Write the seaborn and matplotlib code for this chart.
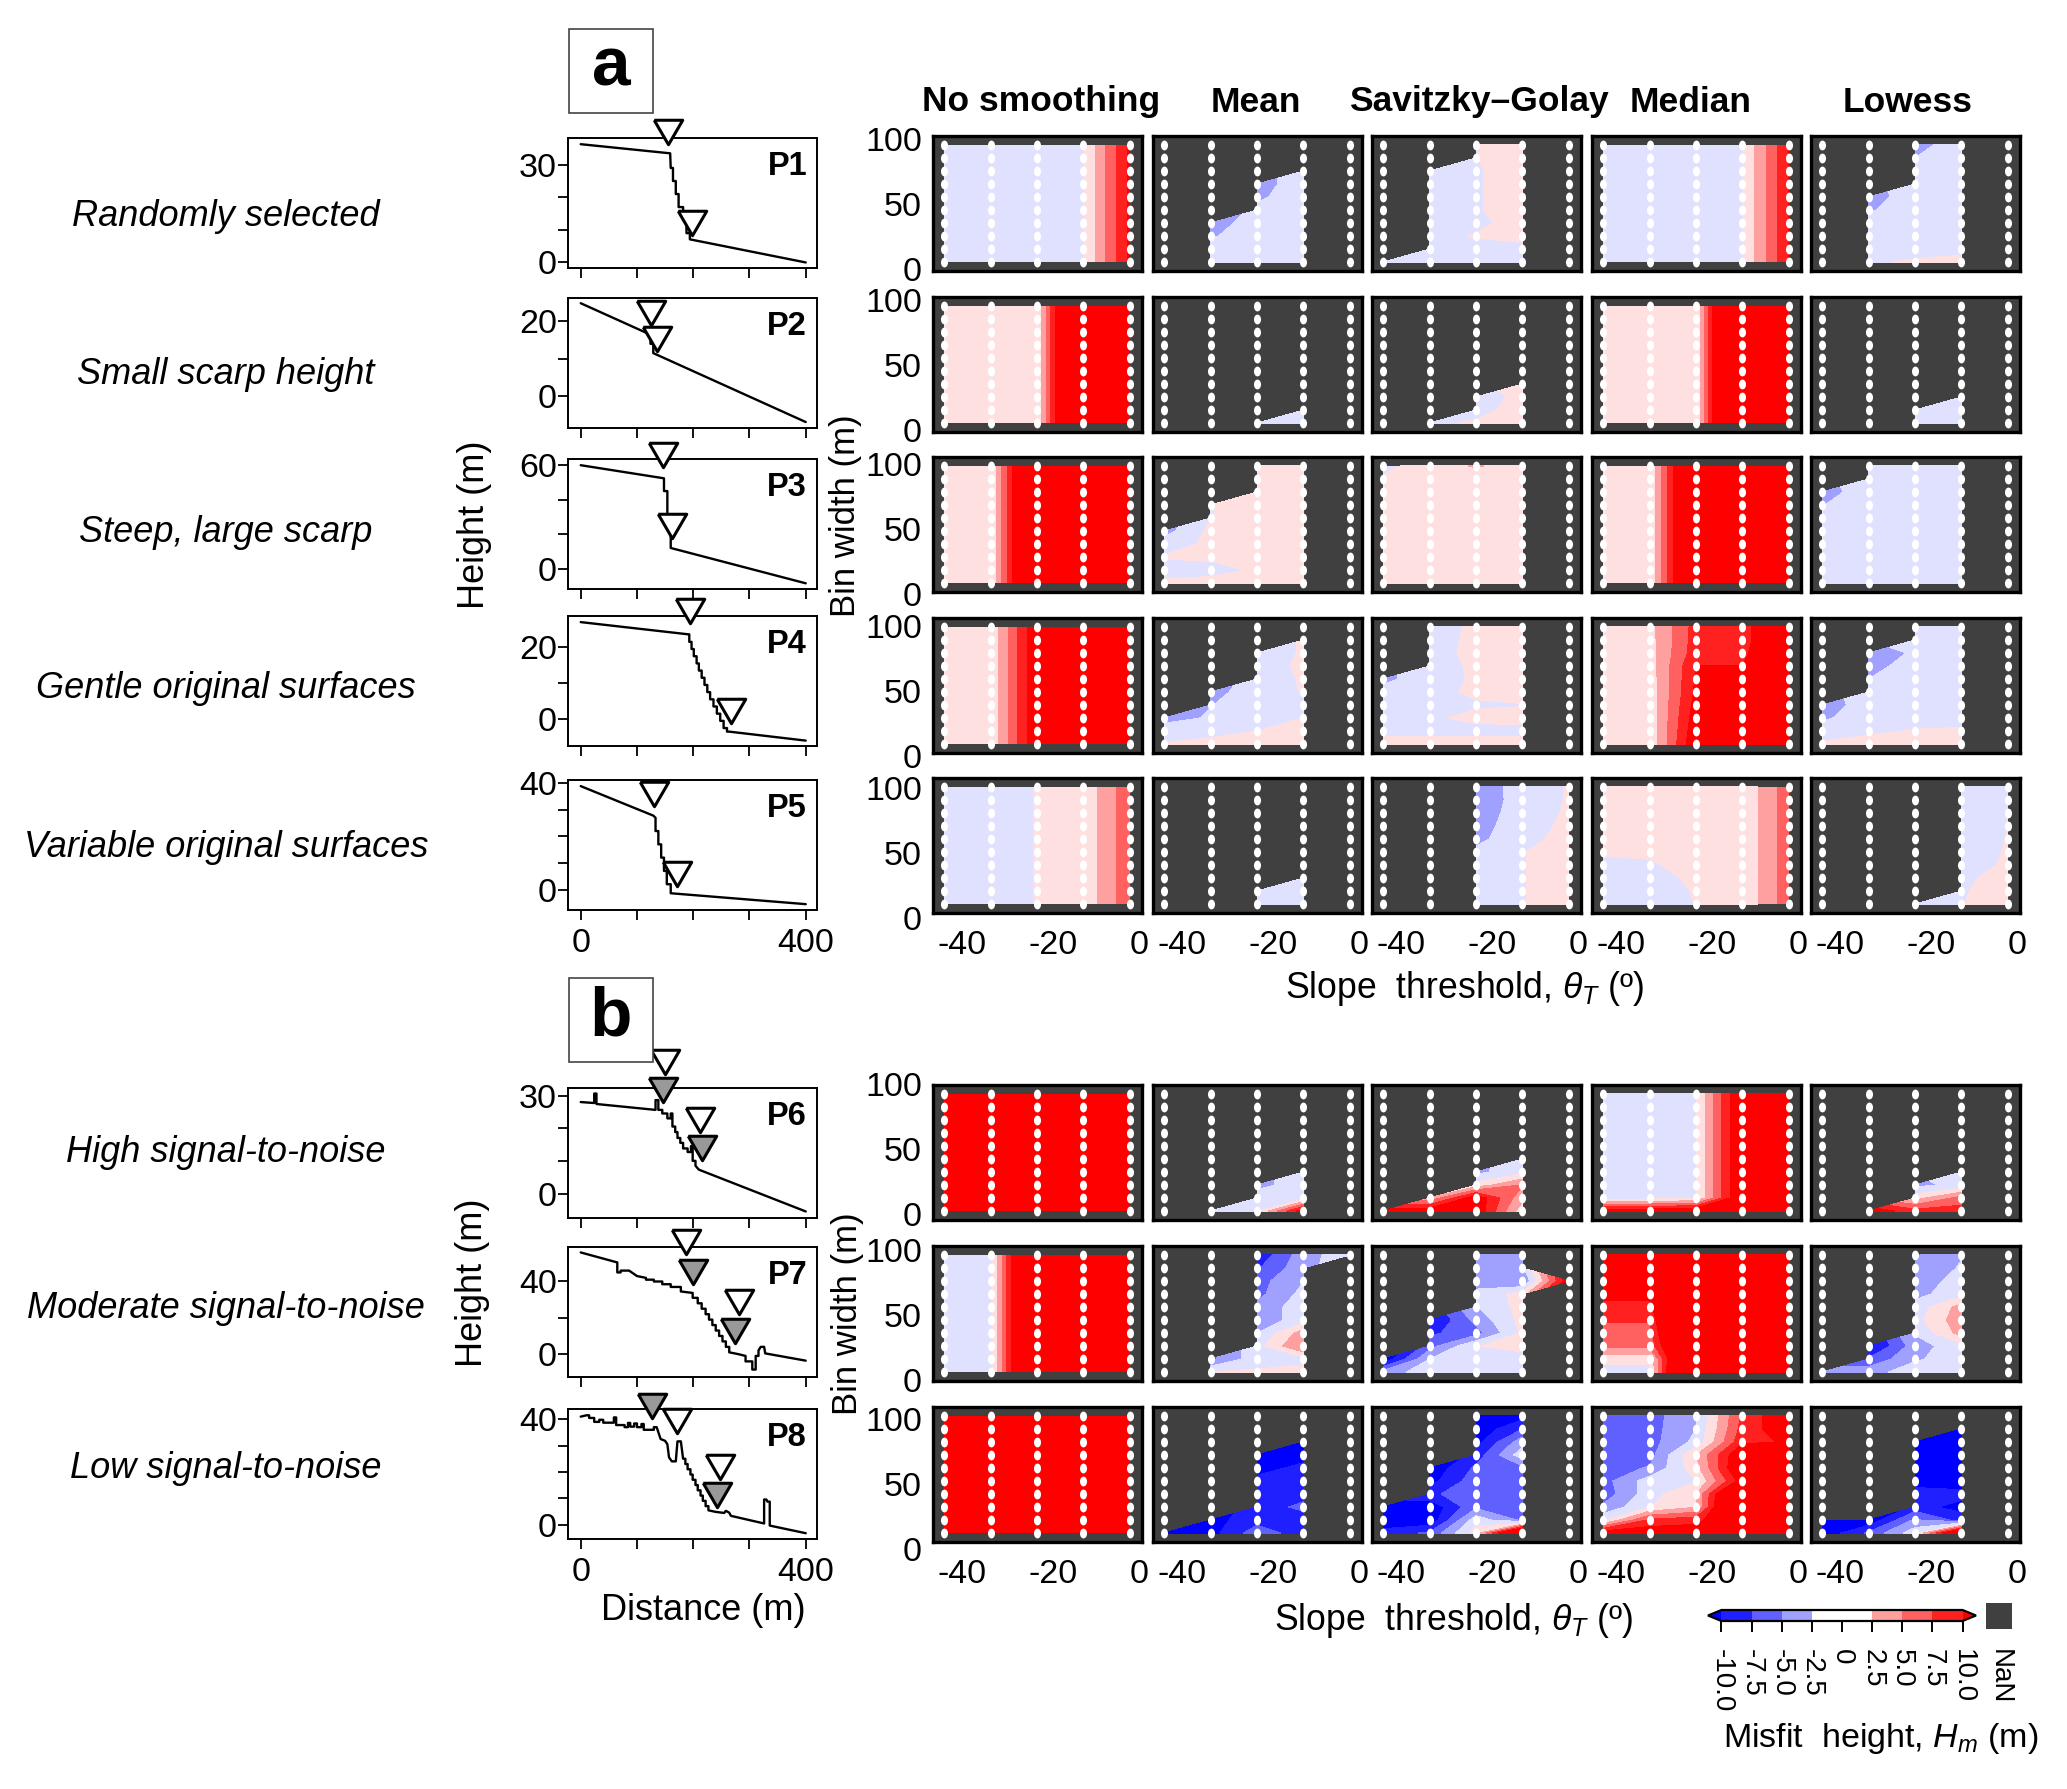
import numpy as np
import pandas as pd
import matplotlib
matplotlib.use("Agg")
import matplotlib.pyplot as plt
from matplotlib.colors import BoundaryNorm, ListedColormap
from matplotlib.cm import ScalarMappable
from matplotlib.markers import MarkerStyle
from matplotlib.patches import Rectangle
from matplotlib.path import Path
from matplotlib.transforms import Affine2D, ScaledTranslation
import seaborn as sns

N = np.nan
W, H = 2067, 1789

# grid axes
slopes = [-40, -30, -20, -10, 0]
bin_widths = [10, 20, 30, 40, 50, 60, 70, 80, 90, 100]
levels = [-10, -7.5, -5, -2.5, 0, 2.5, 5, 7.5, 10]
level_labels = ["-10.0", "-7.5", "-5.0", "-2.5", "0", "2.5", "5.0", "7.5", "10.0"]
fill_colors = ["#0000ff", "#2020ff", "#6060ff", "#a0a0ff", "#e0e0ff",
               "#ffe0e0", "#ffa0a0", "#ff6060", "#ff2020", "#ff0000"]
bar_colors = ["#2020ff", "#6060ff", "#a0a0ff", "#ffffff",
              "#ffffff", "#ffa0a0", "#ff6060", "#ff2020"]

methods = ["No smoothing", "Mean", "Savitzky–Golay", "Median", "Lowess"]
profile_names = ["P1", "P2", "P3", "P4", "P5", "P6", "P7", "P8"]
profile_titles = ["Randomly selected", "Small scarp height", "Steep, large scarp",
                  "Gentle original surfaces", "Variable original surfaces",
                  "High signal-to-noise", "Moderate signal-to-noise", "Low signal-to-noise"]

# misfit height, rows go from bin width 10 up to 100
p1_none = [[-1, -1, -1, -0.1, 10.8]] * 10
p1_mean = [[N, -1, -1, -1, N], [N, -1, -1, -1, N], [N, -2.8, -1, -1, N], [N, -4, -1, -1, N],
           [N, N, -1.8, -1, N], [N, N, -3, -1, N], [N, N, -3.7, -1, N], [N, N, N, -1, N],
           [N, N, N, N, N], [N, N, N, N, N]]
p1_sg = [[-1, -1, -1, -1, N], [N, -1, -1, -1, N], [N, -1, 0.2, 1, N], [N, -1, -0.6, 1, N],
         [N, -1, -0.2, 1, N], [N, -1, -0.2, 1, N], [N, -1, -0.2, 1, N], [N, -1, -0.2, 1, N],
         [N, N, -0.05, 1, N], [N, N, -0.05, 1, N]]
p1_median = [[-1, -1, -1, -0.05, 10.1]] * 10
p1_lowess = [[N, -0.3, 0.3, 1.2, N], [N, -1, -1, -1, N], [N, -1, -1, -1, N], [N, -1, -1, -1, N],
             [N, -2.8, -1, -1, N], [N, -3.6, -1.2, -1, N], [N, N, -1, -1, N], [N, N, -1, -1, N],
             [N, N, -2.5, -1, N], [N, N, -3.5, -1, N]]

p2_none = [[1, 1, 0.2, 26, 30]] * 10
p2_mean = [[N, N, -1, -1, N], [N, N, N, -1, N], [N] * 5, [N] * 5, [N] * 5,
           [N] * 5, [N] * 5, [N] * 5, [N] * 5, [N] * 5]
p2_sg = [[N, -0.5, 0.3, 1, N], [N, N, -0.8, 1, N], [N, N, -1, 0.55, N], [N, N, N, 1, N], [N] * 5,
         [N] * 5, [N] * 5, [N] * 5, [N] * 5, [N] * 5]
p2_median = [[1, 1, 0.3, 28, 30]] * 10
p2_lowess = [[N, N, -1, -1, N], [N, N, -1, -1, N], [N, N, N, -1, N], [N] * 5, [N] * 5,
             [N] * 5, [N] * 5, [N] * 5, [N] * 5, [N] * 5]

p3_none = [[1, 0.2, 21, 30, 30]] * 10
p3_mean = [[0.5, 1, 1, 1, N], [-1, -1, 0.35, 1, N], [0.2, 0.5, 1, 1, N], [-1, 0.43, 1, 1, N],
           [-3.5, 0.6, 1, 1, N], [N, -0.1, 1, 1, N], [N, -0.1, 1, 1, N], [N, N, 1, 1, N],
           [N, N, 1, 1, N], [N, N, 1, 1, N]]
p3_sg = [[1, 1, 1, 1, N], [1, 1, 1, 1, N], [1, 1, 1, 1, N], [1, 1, 1, 1, N], [1, 1, 1, 1, N],
         [1, 1, 1, 1, N], [1, 1, 1, 1, N], [1, 1, 1, 1, N], [0.3, 1, 1, 1, N], [-0.6, 1, 2.8, 1, N]]
p3_median = [[1, 0.2, 20, 30, 30]] * 10
p3_lowess = [[-1, -1, -1, -1, N], [-1, -1, -1, -1, N], [-1, -1, -1, -1, N], [-1, -1, -1, -1, N],
             [-1, -1, -1, -1, N], [-1, -1, -1, -1, N], [-2.6, -1, -1, -1, N], [-3.5, -1.3, -1, -1, N],
             [N, -1, -1, -1, N], [N, -1, -1, -1, N]]

p4_none = [[1, 0.65, 12.5, 30, 30]] * 10
p4_mean = [[0.1, 1, 1, 1, N], [-1, -1, 0, 1, N], [-3.5, -2.2, -1, 0.02, N], [N, -2.6, -1, -0.5, N],
           [N, -3.5, -1, 0.1, N], [N, N, -1.5, 0.3, N], [N, N, -1, 0.4, N], [N, N, -2.7, 0.5, N],
           [N, N, N, 0.5, N], [N] * 5]
p4_sg = [[1.3, 1.3, 1.3, 1.3, N], [-1, -1, -1, -0.84, N], [-1, -0.5, 0.8, 0.8, N], [-1, -1, -0.4, -0.1, N],
         [-1.5, -1, 0.6, 0.8, N], [-3.2, -1, 0.3, 1, N], [N, -1, 0.37, 1, N], [N, -1, 0.7, 1, N],
         [N, -1, 0.55, 1, N], [N, -1, 0.45, 1, N]]
p4_median = [[1, 0.4, 12.6, 14, 20], [1, 0.5, 12, 14, 20], [1, 0.7, 11.5, 14, 20], [1, 0.8, 11, 14, 20],
             [1, 0.9, 10.5, 14, 20], [1, 1, 10.3, 14, 20], [1, 1.2, 10, 10, 12], [1, 1.4, 8.9, 9.7, 12],
             [1, 1.5, 8.7, 9.5, 12], [1, 1.6, 8.55, 9.5, 12]]
p4_lowess = [[0.3, 0.9, 0.9, 0.9, N], [-1, -0.4, 0.15, 0.4, N], [-2.95, -1, -1, -1, N], [-3.7, -1.4, -1, -1, N],
             [N, -1.2, -1, -1, N], [N, -2.5, -1, -1, N], [N, -3.4, -1.4, -1, N], [N, -3.7, -2.2, -1, N],
             [N, N, -1, -1, N], [N, N, -1, -1, N]]

p5_none = [[-1, -1, 0.1, 0.6, 6.9]] * 10
p5_mean = [[N, N, -1, -1, N], [N, N, -1, -1, N], [N, N, N, -1, N], [N] * 5, [N] * 5,
           [N] * 5, [N] * 5, [N] * 5, [N] * 5, [N] * 5]
p5_sg = [[N, N, -1, -0.1, 1], [N, N, -1, -0.1, 1], [N, N, -1, -0.1, 1], [N, N, -1, -0.1, 1],
         [N, N, -2, -0.1, 1], [N, N, -3.1, -1, 1.08], [N, N, -3.6, -1, 0.5], [N, N, -4.2, -1, 0.25],
         [N, N, -4.8, -1, 0.12], [N, N, -5.3, -0.5, 0.06]]
p5_median = [[-1, -1, 0.05, 0.5, 6.5], [-1, -1, 0.15, 0.5, 6.5], [-1, -1, 0.54, 0.5, 6.5], [-1, -0.4, 1.1, 0.5, 6.5],
             [0.5, 0.5, 1, 0.5, 6.5], [1, 1, 1, 0.5, 6.5], [1, 1, 1, 0.5, 6.5], [1, 1, 1, 0.5, 6.5],
             [1, 1, 1, 0.5, 6.5], [1, 1, 1, 0.5, 6.5]]
p5_lowess = [[N, N, -1, -0.07, 1], [N, N, N, -0.3, 1.46], [N, N, N, -0.6, 1.1], [N, N, N, -1, 0.33],
             [N, N, N, -1, 0.16], [N, N, N, -1, 0.07], [N, N, N, -1, 0.03], [N, N, N, -1, 0.01],
             [N, N, N, -1, -0.1], [N, N, N, -1, -0.1]]

p6_none = [[30, 30, 30, 30, 30]] * 10
p6_mean = [[N, -1, -0.5, 12, N], [N, N, -1, -1, N], [N, N, -3.4, -1, N], [N, N, N, -1, N], [N] * 5,
           [N] * 5, [N] * 5, [N] * 5, [N] * 5, [N] * 5]
p6_sg = [[12, 12, 12.3, 0.8, N], [N, 3, 12, 3.2, N], [N, N, 1, 5.2, N], [N, N, -3.2, -0.7, N], [N, N, N, -1, N],
         [N] * 5, [N] * 5, [N] * 5, [N] * 5, [N] * 5]
p6_median = [[12, 12, 13, 30, 30], [-1, -1, -0.2, 13.7, 30], [-1, -1, -0.2, 13.7, 30], [-1, -1, -0.2, 13.7, 30],
             [-1, -1, -0.2, 13.7, 30], [-1, -1, -0.2, 13.7, 30], [-1, -1, -0.2, 13.7, 30], [-1, -1, -0.2, 13.7, 30],
             [-1, -1, -0.2, 13.7, 30], [-1, -1, -0.2, 13.7, 30]]
p6_lowess = [[N, 12, 8.5, 8.7, N], [N, N, 1.5, 6, N], [N, N, -3.2, -1.7, N], [N, N, N, -1, N], [N] * 5,
             [N] * 5, [N] * 5, [N] * 5, [N] * 5, [N] * 5]

p7_none = [[-1, -1, 24, 30, 30]] * 10
p7_mean = [[N, 0.1, 0.3, 1, N], [N, -5.6, -1, -0.8, N], [N, N, -1, 5.3, N], [N, N, -2.6, 3.8, N],
           [N, N, -4, -1.3, N], [N, N, -4.4, -1, N], [N, N, -5.8, -1.7, N], [N, N, -6, -2.6, N],
           [N, N, -7.8, -3.3, N], [N, N, -9.5, -3.5, -1]]
p7_sg = [[-4, -1, -1, -1, N], [-12, -2.5, -1, -1, N], [N, -6, -0.1, 0.9, N], [N, -8, -6, 0.5, N],
         [N, -10.5, -4.2, 0.8, N], [N, N, -2.7, 1, N], [N, N, -1.9, 1, N], [N, N, -3.5, -5.2, 12],
         [N, N, -3.5, -3, N], [N, N, -3.2, -2.6, N]]
p7_median = [[-1, -1, 30, 30, 30], [0.8, 0.8, 24, 30, 30], [5.5, 5.5, 23, 30, 30], [6.5, 6.5, 25, 30, 30],
             [7.7, 7.7, 25, 30, 30], [9, 9, 25, 30, 30], [11, 11, 30, 30, 30], [12, 12, 30, 30, 30],
             [12, 12, 30, 30, 30], [12, 12, 30, 30, 30]]
p7_lowess = [[-3.7, -3.6, -1, -1, N], [N, -7, -2.9, -1, N], [N, -11, -3.6, -1, N], [N, N, -2.3, 3.5, N],
             [N, N, -1, 4.2, N], [N, N, -1.5, 3.5, N], [N, N, -3.3, -1, N], [N, N, -3.9, -1.5, N],
             [N, N, -4.8, -2.2, N], [N, N, -5.3, -2.7, N]]

p8_none = [[30, 30, 30, 30, 30]] * 10
p8_mean = [[-11, -11, -6, -9, N], [N, -11, -8.5, -9, N], [N, N, -9, -6.8, N], [N, N, -9, -8.5, N],
           [N, N, -9.2, -9, N], [N, N, -11, -9.3, N], [N, N, -12, -11, N], [N, N, N, -12, N],
           [N] * 5, [N] * 5]
p8_sg = [[-9, -7, 1, 20, N], [-12, -12, -1, -5.5, N], [-12, -12, -5.5, -6, N], [N, -8, -6, -6, N],
         [N, -11, -6, -6, N], [N, -12, -7, -5.7, N], [N, N, -9, -1, N], [N, N, -11, -3.5, N],
         [N, N, -12, -7.5, N], [N, N, -12, -11, N]]
p8_median = [[12, 12, 12, 12, 12], [-0.5, 8, 9, 15, 30], [-4.5, -0.1, 2.4, 22, 30], [-6.5, -1.1, 2.5, 20, 30],
             [-6, -1.2, -0.2, 11.5, 30], [-6, -4.8, 1.5, 14, 30], [-6, -6, 2.5, 13, 30], [-6, -6, -1.8, 9.5, 10.2],
             [-6, -6, -2.5, 8.5, 12], [-6, -6.1, -2.7, 8, 12.6]]
p8_lowess = [[-12, -7, -1, 18, N], [-12, -12, -4.5, -8.5, N], [N, N, -9, -11, N], [N, N, -9, -9, N],
             [N, N, -11, -12, N], [N, N, -12, -12, N], [N, N, -12, -12, N], [N, N, -12, -12, N],
             [N, N, N, -12, N], [N] * 5]

grids = [
    [p1_none, p1_mean, p1_sg, p1_median, p1_lowess],
    [p2_none, p2_mean, p2_sg, p2_median, p2_lowess],
    [p3_none, p3_mean, p3_sg, p3_median, p3_lowess],
    [p4_none, p4_mean, p4_sg, p4_median, p4_lowess],
    [p5_none, p5_mean, p5_sg, p5_median, p5_lowess],
    [p6_none, p6_mean, p6_sg, p6_median, p6_lowess],
    [p7_none, p7_mean, p7_sg, p7_median, p7_lowess],
    [p8_none, p8_mean, p8_sg, p8_median, p8_lowess],
]

# topographic profiles
p1_dist = [0, 159, 160, 164, 164, 169, 169, 174, 174, 182, 182, 188, 188, 194, 194, 400]
p1_elev = [36.3, 33.5, 29, 29, 25, 25, 21, 21, 17, 17, 13, 13, 9, 9, 7.1, 0]
p2_dist = [0, 113, 124, 124, 129, 129, 400]
p2_elev = [24.9, 17.2, 16.4, 14, 14, 11.5, -7]
p3_dist = [0, 148, 148, 154, 154, 160, 160, 400]
p3_elev = [60, 52.4, 45, 45, 30, 30, 12, -8.5]
p4_dist = [0, 191, 193, 193, 197, 197, 201, 201, 206, 206, 210, 210, 215, 215, 220, 220, 225, 225,
           230, 230, 236, 236, 242, 242, 248, 248, 254, 254, 260, 260, 264, 400]
p4_elev = [27, 23.6, 23.6, 21.5, 21.5, 19.5, 19.5, 17.5, 17.5, 15.5, 15.5, 13.5, 13.5, 11.5, 11.5, 9.5, 9.5, 7.5,
           7.5, 5.5, 5.5, 3.5, 3.5, 1.5, 1.5, -0.5, -0.5, -2.5, -2.5, -3.5, -3.5, -6]
p5_dist = [0, 129, 133, 133, 138, 138, 143, 143, 148, 148, 153, 153, 160, 160, 400]
p5_elev = [38.9, 27.8, 27, 22, 22, 17, 17, 12, 12, 7, 7, 2, 2, -1.4, -5.5]
p6_dist = [0, 24, 24, 28, 28, 133, 133, 138, 138, 145, 145, 154, 154, 160, 160, 163, 163, 168, 168, 172, 172,
           177, 177, 182, 182, 190, 190, 196, 196, 199, 199, 204, 204, 210, 400]
p6_elev = [28, 27.7, 30.6, 30.6, 27.4, 25.6, 28.6, 28.6, 25.6, 25.6, 24.5, 24.5, 23, 23, 24.5, 24.5, 20.5, 20.5, 18.8, 18.8, 17,
           17, 15.5, 15.5, 13.8, 13.8, 12.7, 12.7, 14.5, 14.5, 10, 10, 8.5, 7.3, -5.5]
p7_dist = [0, 65, 65, 71, 71, 86, 100, 100, 116, 116, 130, 130, 145, 145, 160, 160, 178, 178, 199, 199, 208, 208,
           215, 215, 222, 222, 228, 228, 234, 234, 240, 240, 246, 246, 252, 252, 258, 258, 264, 264, 280, 293, 293,
           305, 305, 311, 311, 316, 316, 320, 326, 328, 400]
p7_elev = [56, 50.5, 45, 45, 46, 46, 43, 43, 42, 41, 41, 40, 40, 38.5, 38.5, 37, 37, 34.5, 33.7, 31, 31, 28,
           28, 25, 25, 22, 22, 19, 19, 16, 16, 13, 13, 10, 10, 7, 7, 4, 4, 1, 0, -1, -4,
           -4, -8.5, -8.5, -1, -1, 2, 4, 4, 0.4, -3.6]
p8_dist = [0, 10, 15, 15, 24, 24, 33, 33, 40, 40, 59, 59, 63, 63, 78, 78, 84, 84, 88, 88, 95, 95, 100, 100,
           108, 108, 112, 112, 130, 130, 135, 142, 150, 154, 157, 162, 169, 172, 178, 182, 186, 186, 190, 190,
           195, 195, 199, 199, 204, 204, 208, 208, 213, 213, 217, 217, 222, 222, 227, 227, 240, 255, 258, 264,
           267, 326, 326, 330, 332, 336, 336, 400]
p8_elev = [41, 41.5, 41.5, 40.5, 40.5, 39, 39, 39.8, 39.8, 38.7, 38.7, 40.7, 40.7, 37.8, 37.8, 37, 37, 38.6, 38.6, 37.2, 37.2, 38.4, 38.4, 37,
           37, 38.2, 38.2, 36, 36, 37, 37, 32.5, 31.8, 30.5, 25.5, 24, 24, 31.6, 31.6, 25, 25, 23, 23, 21,
           21, 19, 19, 17, 17, 15, 15, 13, 13, 11, 11, 9, 9, 7, 7, 5.4, 4.8, 4.4, 5.2, 4.5,
           3.3, 0.4, 9.5, 9.5, 8.7, 8.7, -0.4, -3.3]
profile_dist = [p1_dist, p2_dist, p3_dist, p4_dist, p5_dist, p6_dist, p7_dist, p8_dist]
profile_elev = [p1_elev, p2_elev, p3_elev, p4_elev, p5_elev, p6_elev, p7_elev, p8_elev]

# picked scarp limits, (distance, height)
open_picks = [[(156, 40), (197, 12.2)], [(125, 22.4), (135, 15.4)], [(146, 66), (162, 25)],
              [(194, 30), (267, 2.3)], [(130, 35.8), (172, 6)], [(150, 40.4), (212, 22.5)],
              [(187, 61.5), (281, 28.5)], [(171, 39.3), (248, 21.8)]]
grey_picks = [[], [], [], [], [], [(147, 31.7), (216, 13.8)], [(200, 45), (274, 12.6)], [(126, 45), (242, 11.3)]]
profile_ylim = [(-1.7, 38.2), (-8.6, 26.3), (-11.8, 63.6), (-7.5, 28.7),
                (-7.7, 41.2), (-7.5, 32.3), (-12.6, 59), (-5.5, 43.9)]
profile_yticks = [[0, 10, 20, 30], [0, 10, 20], [0, 20, 40, 60], [0, 10, 20],
                  [0, 10, 20, 30, 40], [0, 10, 20, 30], [0, 20, 40], [0, 10, 20, 30, 40]]

# pixel layout
heat_left = [933, 1153, 1372, 1592, 1811]
heat_top = [136, 297, 457, 618, 778, 1085, 1246, 1407]
prof_top = [138, 298, 459, 616, 780, 1088, 1247, 1409]
row_y = [217, 375, 532, 689, 847, 1152, 1309, 1468]
title_x = [1041, 1256, 1479, 1691, 1908]
ylabel_shift = [0, 0, 4, 5, 7, -4, 1, 9]

sns.set_style("ticks")
plt.rcParams["font.family"] = ["Liberation Sans", "DejaVu Sans"]
plt.rcParams["mathtext.fontset"] = "custom"
plt.rcParams["mathtext.rm"] = "Liberation Sans"
plt.rcParams["mathtext.it"] = "Liberation Sans:italic"
plt.rcParams["axes.edgecolor"] = "black"
plt.rcParams["text.color"] = "black"
plt.rcParams["xtick.color"] = "black"
plt.rcParams["ytick.color"] = "black"
plt.rcParams["axes.labelcolor"] = "black"

fig = plt.figure(figsize=(W / 100, H / 100), dpi=100)


def px_axes(left, top, width, height):
    return fig.add_axes([left / W, 1 - (top + height) / H, width / W, height / H])


def px_text(x, y, s, **kw):
    kw.setdefault("ha", "center")
    kw.setdefault("va", "center")
    return fig.text(x / W, 1 - y / H, s, **kw)


grid_points = pd.DataFrame([(s, b) for s in slopes for b in bin_widths], columns=["slope", "bin"])
dot = MarkerStyle(Path.unit_circle().transformed(Affine2D().scale(0.72, 1)))
tri = MarkerStyle([(-1, 0.86), (1, 0.86), (0, -0.86), (-1, 0.86)])

# contour panels
for r, row in enumerate(grids):
    for c, z in enumerate(row):
        ax = px_axes(heat_left[c], heat_top[r], 209, 135)
        ax.set_facecolor("#404040")
        ax.contourf(slopes, bin_widths, np.ma.masked_invalid(np.array(z, dtype=float)),
                    levels=levels, colors=fill_colors, extend="both")
        sns.scatterplot(data=grid_points, x="slope", y="bin", marker=dot, s=50, color="white",
                        linewidth=0, legend=False, ax=ax, zorder=3)
        ax.set_xlim(-42.4, 2.6)
        ax.set_ylim(3.1, 106.9)
        ax.set_xlabel("")
        ax.set_ylabel("")
        for sp in ax.spines.values():
            sp.set_linewidth(2.4)
        ax.tick_params(length=0, labelsize=24.5)
        ax.tick_params(axis="x", pad=12)
        ax.tick_params(axis="y", pad=8)
        if c == 0:
            ax.set_yticks([4.6, 54.6, 104.6], ["0", "50", "100"])
            shift = ScaledTranslation(0, -ylabel_shift[r] / 100, fig.dpi_scale_trans)
            for lab in ax.get_yticklabels():
                lab.set_transform(lab.get_transform() + shift)
        else:
            ax.set_yticks([])
        if r in (4, 7):
            ax.set_xticks([-36.2, -16.6, 1.9], ["-40", "-20", "0"])
        else:
            ax.set_xticks([])

# profile panels
for r in range(8):
    ax = px_axes(568, prof_top[r], 249, 130)
    sns.lineplot(x=profile_dist[r], y=profile_elev[r], sort=False, estimator=None, errorbar=None,
                 color="black", linewidth=1.7, ax=ax)
    if open_picks[r]:
        xs, ys = zip(*open_picks[r])
        sns.scatterplot(x=list(xs), y=list(ys), marker=tri, s=420, color="white", edgecolor="black",
                        linewidth=2.2, clip_on=False, zorder=6, ax=ax)
    if grey_picks[r]:
        xs, ys = zip(*grey_picks[r])
        sns.scatterplot(x=list(xs), y=list(ys), marker=tri, s=420, color="#999999", edgecolor="black",
                        linewidth=2.2, clip_on=False, zorder=7, ax=ax)
    ax.set_xlim(-22.6, 420)
    ax.set_ylim(*profile_ylim[r])
    ax.set_xticks([0, 100, 200, 300, 400])
    bottom = r in (4, 7)
    ax.set_xticklabels(["0", "", "", "", "400"] if bottom else [""] * 5)
    ticks = profile_yticks[r]
    ax.set_yticks(ticks, [str(t) if t in (0, ticks[-1]) else "" for t in ticks])
    ax.tick_params(length=7, width=1.3, labelsize=24.5)
    ax.tick_params(axis="x", pad=6)
    ax.tick_params(axis="y", pad=1)
    for sp in ax.spines.values():
        sp.set_linewidth(1.4)
    ax.text(0.96, 0.78, profile_names[r], transform=ax.transAxes, ha="right", va="center",
            fontsize=23.5, fontweight="bold")
    px_text(226, row_y[r], profile_titles[r], fontsize=26, fontstyle="italic")

for x, s in zip(title_x, methods):
    px_text(x, 102, s, fontsize=25.5, fontweight="bold")

# panel letters
for s, top in (("a", 29), ("b", 978)):
    fig.add_artist(Rectangle((569 / W, 1 - (top + 84) / H), 84 / W, 84 / H, transform=fig.transFigure,
                             facecolor="white", edgecolor="#444444", linewidth=1.2))
    px_text(611, top + 39, s, fontsize=50, fontweight="bold")

px_text(475, 525, "Height (m)", fontsize=26, rotation=90)
px_text(473, 1283, "Height (m)", fontsize=26, rotation=90)
px_text(845, 516, "Bin width (m)", fontsize=25, rotation=90)
px_text(848, 1314, "Bin width (m)", fontsize=25, rotation=90)
px_text(703, 1611, "Distance (m)", fontsize=26)
px_text(1465, 988, r"Slope  threshold, $\mathit{\theta}_{T}$ (º)", fontsize=25.7)
px_text(1454, 1621, r"Slope  threshold, $\mathit{\theta}_{T}$ (º)", fontsize=25.7)

# colour bar and NaN swatch, the extensions sit inside the axes box
cax = px_axes(1708, 1610, 268, 11)
cmap = ListedColormap(bar_colors)
cmap.set_under("#0000ff")
cmap.set_over("#ff0000")
cb = fig.colorbar(ScalarMappable(norm=BoundaryNorm(levels, cmap.N), cmap=cmap), cax=cax,
                  orientation="horizontal", extend="both", extendfrac=0.056, ticks=levels, spacing="proportional")
cb.ax.set_xticklabels(level_labels, rotation=-90, fontsize=20)
cb.ax.tick_params(length=8, width=1.4, pad=12)
cb.outline.set_linewidth(1.6)
fig.add_artist(Rectangle((1986 / W, 1 - 1629 / H), 26 / W, 26 / H, transform=fig.transFigure,
                         facecolor="#404040", edgecolor="none"))
px_text(2000, 1649, "NaN", fontsize=20, rotation=-90, va="top")
px_text(1881, 1738, r"Misfit  height, $\mathit{H}_{m}$ (m)", fontsize=24.5)

fig.savefig("out.png", dpi=100, facecolor="white")
